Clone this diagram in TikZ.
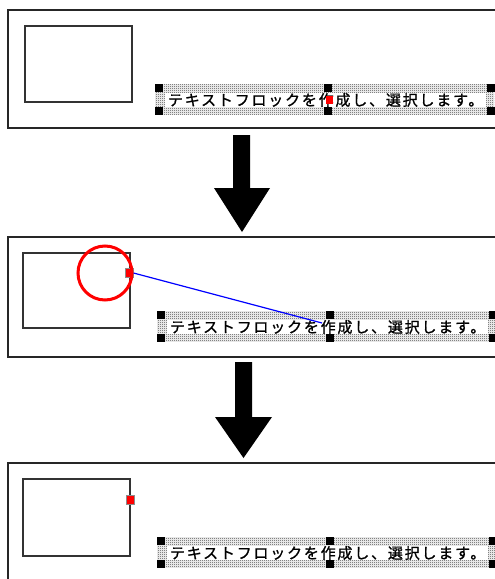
\documentclass[tikz,border=0pt]{standalone}
\usepackage{fontspec}
\newfontfamily\jpfont{Noto Sans CJK JP}
\usetikzlibrary{patterns}
\pgfdeclarepatternformonly{finedots}{\pgfpointorigin}{\pgfpoint{2pt}{2pt}}{\pgfpoint{2pt}{2pt}}{%
  \pgfpathrectangle{\pgfpointorigin}{\pgfpoint{1pt}{1pt}}%
  \pgfpathrectangle{\pgfpoint{1pt}{1pt}}{\pgfpoint{1pt}{1pt}}\pgfusepath{fill}}
\tikzset{
  panelframe/.style={draw=black!85, line width=1.5pt},
  shapebox/.style={draw=black!80, line width=1.4pt},
  blockarrow/.style={fill=black, draw=none},
  tbarea/.style={draw=none, pattern=finedots, pattern color=black!75, inner sep=0pt,
    minimum width=339pt, minimum height=30pt, anchor=north west},
  tbtext/.style={fill=white, inner sep=0pt, minimum width=321pt, minimum height=14pt,
    anchor=west, font=\jpfont\fontsize{15pt}{15pt}\selectfont\addfontfeature{LetterSpace=12,FakeBold=1.2}},
  selhandle/.style={fill=black, draw=none, minimum size=8pt, inner sep=0pt},
  redhandle/.style={fill=red, draw=black!45, line width=1pt, minimum width=8pt,
    minimum height=9pt, inner sep=0pt},
  redmark/.style={fill=red, draw=none, minimum width=7pt, minimum height=8pt, inner sep=0pt},
  hilite/.style={draw=red, line width=3pt, circle, minimum size=54pt, inner sep=0pt},
  linkline/.style={draw=blue, line width=1.2pt},
}
\newcommand\textblock[2]{%
  \node[tbarea] (tb#1) at (#2+155,84) {};
  \node[tbtext] (tx#1) at (#2+165,100) {テキストフロックを作成し、選択します。};
  \node[selhandle] (hTL#1) at (#2+158.5,87.5) {};
  \node[selhandle] (hBL#1) at (#2+158.5,110.5) {};
  \node[selhandle] (hTM#1) at (#2+327.5,87.5) {};
  \node[selhandle] (hBM#1) at (#2+327.5,110.5) {};
  \node[selhandle] (hTR#1) at (#2+490.5,87.5) {};
  \node[selhandle] (hBR#1) at (#2+490.5,110.5) {};
}
\begin{document}
\begin{tikzpicture}[x=1pt,y=-1pt]
\clip (0,0) rectangle (495,579);
\fill[white] (0,0) rectangle (495,579);
% panel 1
\begin{scope}
  \draw[panelframe] (8,10) rectangle (530,128);
  \draw[shapebox] (25,26) rectangle (132,102);
  \textblock{a}{0}
  \node[redmark] (ma) at (329,100) {};
\end{scope}
% arrow 1
\fill[blockarrow] (233,135) -- (250,135) -- (250,188) -- (270,188) -- (242,232)
  -- (214,188) -- (233,188) -- cycle;
% panel 2
\begin{scope}[shift={(0,227)}]
  \draw[panelframe] (8,10) rectangle (530,130);
  \draw[shapebox] (23,26) rectangle (130,101);
  \textblock{b}{2}
  \node[redhandle] (hb) at (129,46) {};
  \coordinate (endb) at (322,96);
  \draw[linkline] (hb.east) -- (endb);
  \node[hilite] (cb) at (105,46) {};
\end{scope}
% arrow 2
\fill[blockarrow] (235,362) -- (252,362) -- (252,417) -- (272,417) -- (243.5,458)
  -- (215,417) -- (235,417) -- cycle;
% panel 3
\begin{scope}[shift={(0,453)}]
  \draw[panelframe] (8,10) rectangle (530,200);
  \draw[shapebox] (23,26) rectangle (130,103);
  \textblock{c}{2}
  \node[redhandle] (hc) at (130,47) {};
\end{scope}
\end{tikzpicture}
\end{document}
